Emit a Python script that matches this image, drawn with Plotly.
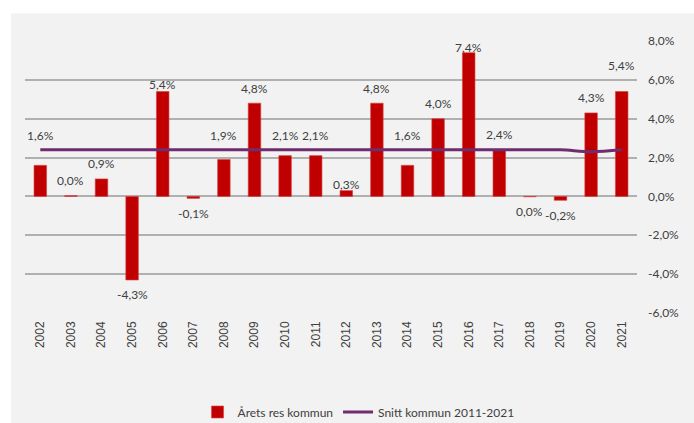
import plotly.graph_objects as go

years = [str(y) for y in range(2002, 2022)]
arets_res = [1.6, 0.04, 0.9, -4.3, 5.4, -0.1, 1.9, 4.8, 2.1, 2.1,
             0.3, 4.8, 1.6, 4.0, 7.4, 2.4, -0.02, -0.2, 4.3, 5.4]
snitt = [2.4] * 18 + [2.3, 2.4]
y_ticks = [-6, -4, -2, 0, 2, 4, 6, 8]
y_ticktext = [f"{t:.1f}%".replace(".", ",") for t in y_ticks]

NARROW = "Lato, Liberation Sans, sans-serif"
TXT = "#404040"

fig = go.Figure()
fig.add_trace(go.Bar(x=years, y=arets_res, name="Årets res kommun",
                     marker=dict(color="#c00000", line=dict(color="#d84040", width=0.6)),
                     width=0.41))
fig.add_trace(go.Scatter(x=years, y=snitt, name="Snitt kommun 2011-2021", mode="lines",
                         line=dict(color="#6e2d6e", width=3, shape="spline")))

# data labels (Excel-like, some moved above the average line)
nudge = {"2006": -8, "2016": -10, "2021": 11, "2012": -9}
for i, (yr, v) in enumerate(zip(years, arets_res)):
    txt = f"{v:.1f}%".replace(".", ",")
    if txt == "-0,0%":
        txt = "0,0%"
    if v >= 0:
        est = v + 0.77
        if 1.7 < est < 3.15:
            ypos, shift = 3.15, 0
        else:
            ypos, shift = v, 15 + nudge.get(yr, 0)
    else:
        ypos, shift = v, -15 + nudge.get(yr, 0)
    fig.add_annotation(x=i, y=ypos, text=txt, showarrow=False, yshift=shift,
                       yanchor="middle", font=dict(family=NARROW, size=12, color=TXT))

fig.add_shape(type="rect", xref="paper", yref="paper",
              x0=-0.0229, x1=1.1, y0=-0.42, y1=1.1017,
              fillcolor="#f2f2f2", line=dict(width=0), layer="below")

fig.update_layout(
    width=694, height=423,
    margin=dict(l=25, r=57, t=41, b=110, autoexpand=False),
    paper_bgcolor="white", plot_bgcolor="rgba(0,0,0,0)",
    showlegend=True,
    legend=dict(orientation="h", x=0.545, xanchor="center", yref="container",
                y=0.026, yanchor="middle",
                font=dict(family=NARROW, size=12, color=TXT), bgcolor="rgba(0,0,0,0)",
                itemwidth=30, tracegroupgap=0),
    bargap=0.6,
)
fig.update_xaxes(type="category", range=[-0.5, 19.5], tickangle=-90, showgrid=False,
                 showline=False, ticks="", automargin=False, ticklabelstandoff=5,
                 tickfont=dict(family="Liberation Sans, Arial, sans-serif", size=12, color=TXT))
fig.update_yaxes(side="right", range=[-6, 8], tickvals=y_ticks, ticktext=y_ticktext,
                 showgrid=True, gridcolor="#b0b0b0", gridwidth=1.5,
                 zeroline=True, zerolinecolor="#b0b0b0", zerolinewidth=1.5,
                 showline=False, ticks="", ticklabelstandoff=10, automargin=False,
                 tickfont=dict(family=NARROW, size=12, color=TXT))

fig.write_html("out.html", config={"displayModeBar": False},
               post_script="document.body.style.margin='0';document.body.style.overflow='hidden';")
